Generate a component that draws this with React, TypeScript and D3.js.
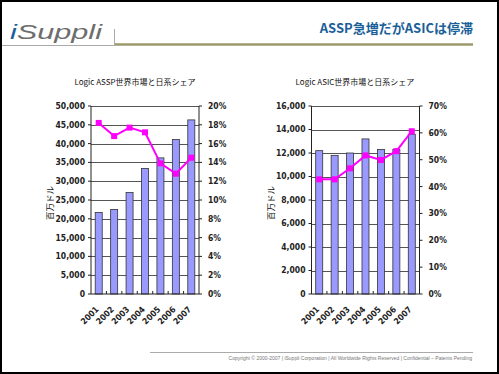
import React, { useRef, useEffect } from "react";
import * as d3 from "d3";

const years = ["2001", "2002", "2003", "2004", "2005", "2006", "2007"];

// Logic ASSP (million $) and Japanese share (%)
const asspMarket = [21700, 22500, 27000, 33400, 36200, 41100, 46300];
const asspShare = [18.2, 16.8, 17.7, 17.2, 13.9, 12.8, 14.5];

// Logic ASIC (million $) and Japanese share (%)
const asicMarket = [12200, 11800, 12000, 13200, 12300, 12300, 13600];
const asicShare = [42.7, 42.7, 46.8, 51.6, 49.9, 53.2, 60.6];

const pageTitle = "ASSP急増だがASICは停滞";
const footerText =
  "Copyright © 2000-2007  |  iSuppli Corporation  |  All Worldwide Rights Reserved  |  Confidential – Patents Pending";

const W = 499;
const H = 374;
const axisFont = "'Liberation Sans Narrow', 'DejaVu Sans Condensed', 'Liberation Sans', sans-serif";
const jpFont = "'Noto Sans CJK JP', sans-serif";

type ChartCfg = {
  x0: number;
  x1: number;
  title: string;
  titleX: number;
  market: number[];
  share: number[];
  yMax: number;
  yStep: number;
  sMax: number;
  sStep: number;
};

const charts: ChartCfg[] = [
  { x0: 91, x1: 199, title: "Logic ASSP世界市場と日系シェア", titleX: 135, market: asspMarket, share: asspShare, yMax: 50000, yStep: 5000, sMax: 20, sStep: 2 },
  { x0: 311.5, x1: 419.5, title: "Logic ASIC世界市場と日系シェア", titleX: 355, market: asicMarket, share: asicShare, yMax: 16000, yStep: 2000, sMax: 70, sStep: 10 },
];

const top = 106;
const bottom = 294;

function drawChart(svg: d3.Selection<SVGSVGElement, unknown, null, undefined>, c: ChartCfg) {
  const g = svg.append("g");
  const x = d3.scaleBand().domain(years).range([c.x0, c.x1]);
  const y = d3.scaleLinear().domain([0, c.yMax]).range([bottom, top]);
  const s = d3.scaleLinear().domain([0, c.sMax]).range([bottom, top]);
  const yTicks = d3.range(0, c.yMax + 1, c.yStep);
  const sTicks = d3.range(0, c.sMax + 0.001, c.sStep);

  // title
  g.append("text")
    .attr("x", c.titleX).attr("y", 85)
    .attr("text-anchor", "middle")
    .style("font-family", jpFont).style("font-size", "8px").style("fill", "#111")
    .text(c.title);

  // gridlines
  g.selectAll(".grid").data(yTicks.slice(1)).enter().append("line")
    .attr("x1", c.x0).attr("x2", c.x1)
    .attr("y1", d => Math.round(y(d)) + 0.5).attr("y2", d => Math.round(y(d)) + 0.5)
    .style("stroke", "#555").style("stroke-width", 1);

  // bars
  const bw = x.bandwidth() / 2.2;
  g.selectAll(".bar").data(c.market).enter().append("rect")
    .attr("x", (d, i) => (x(years[i]) as number) + x.bandwidth() / 2 - bw / 2)
    .attr("y", d => y(d))
    .attr("width", bw)
    .attr("height", d => bottom - y(d))
    .style("fill", "#9999ff").style("stroke", "#333").style("stroke-width", 0.8);

  // axes lines
  g.append("line").attr("x1", c.x0).attr("x2", c.x0).attr("y1", top).attr("y2", bottom).style("stroke", "#222");
  g.append("line").attr("x1", c.x1).attr("x2", c.x1).attr("y1", top).attr("y2", bottom).style("stroke", "#222");
  g.append("line").attr("x1", c.x0).attr("x2", c.x1).attr("y1", bottom).attr("y2", bottom).style("stroke", "#222");

  // category ticks
  g.selectAll(".xt").data(years.slice(1)).enter().append("line")
    .attr("x1", d => x(d) as number).attr("x2", d => x(d) as number)
    .attr("y1", bottom).attr("y2", bottom - 3)
    .style("stroke", "#222");

  // left ticks and labels
  g.selectAll(".ylt").data(yTicks).enter().append("line")
    .attr("x1", c.x0 - 3).attr("x2", c.x0)
    .attr("y1", d => y(d)).attr("y2", d => y(d))
    .style("stroke", "#222");
  g.selectAll(".yl").data(yTicks).enter().append("text")
    .attr("x", c.x0 - 6).attr("y", d => y(d)).attr("dy", "0.35em")
    .attr("text-anchor", "end")
    .style("font-family", axisFont).style("font-size", "8.5px").style("font-weight", "bold").style("fill", "#222")
    .text(d => d3.format(",")(d));

  // right ticks and labels
  g.selectAll(".srt").data(sTicks).enter().append("line")
    .attr("x1", c.x1).attr("x2", c.x1 + 3)
    .attr("y1", d => s(d)).attr("y2", d => s(d))
    .style("stroke", "#222");
  g.selectAll(".sl").data(sTicks).enter().append("text")
    .attr("x", c.x1 + 9).attr("y", d => s(d)).attr("dy", "0.35em")
    .style("font-family", axisFont).style("font-size", "8.5px").style("font-weight", "bold").style("fill", "#222")
    .text(d => Math.round(d) + "%");

  // year labels
  g.selectAll(".xl").data(years).enter().append("text")
    .attr("transform", d => `translate(${(x(d) as number) + x.bandwidth() / 2 + 0.5},${bottom + 16}) rotate(-45)`)
    .attr("text-anchor", "end")
    .style("font-family", axisFont).style("font-size", "8.5px").style("font-weight", "bold").style("fill", "#222")
    .text(d => d);

  // y axis title
  g.append("text")
    .attr("transform", `translate(${c.x0 - 38},203) rotate(-90)`)
    .attr("text-anchor", "middle")
    .style("font-family", jpFont).style("font-size", "8.5px").style("fill", "#111")
    .text("百万ドル");

  // share line
  const line = d3.line<number>()
    .x((d, i) => (x(years[i]) as number) + x.bandwidth() / 2)
    .y(d => s(d));
  g.append("path").datum(c.share).attr("d", line)
    .style("fill", "none").style("stroke", "#ff00ff").style("stroke-width", 2);
  g.selectAll(".mk").data(c.share).enter().append("rect")
    .attr("x", (d, i) => (x(years[i]) as number) + x.bandwidth() / 2 - 3)
    .attr("y", d => s(d) - 3)
    .attr("width", 6).attr("height", 6)
    .style("fill", "#ff00ff");
}

const App = () => {
  const ref = useRef<SVGSVGElement>(null);

  useEffect(() => {
    const svg = d3.select(ref.current as SVGSVGElement);
    svg.selectAll("*").remove();

    svg.append("rect").attr("width", W).attr("height", H).style("fill", "#fff");

    // header
    svg.append("text")
      .attr("x", 10).attr("y", 39)
      .attr("textLength", 92).attr("lengthAdjust", "spacingAndGlyphs")
      .style("font-family", "'Liberation Sans', sans-serif").style("font-size", "20px").style("font-style", "italic")
      .call(t => {
        t.append("tspan").style("fill", "#1b5f98").text("i");
        t.append("tspan").style("fill", "#6d6d6d").text("Suppli");
      });
    svg.append("line").attr("x1", 2).attr("x2", 114).attr("y1", 45.5).attr("y2", 45.5).style("stroke", "#aaa");
    svg.append("line").attr("x1", 114.5).attr("x2", 114.5).attr("y1", 29).attr("y2", 46).style("stroke", "#aaa");
    svg.append("line").attr("x1", 115).attr("x2", 473).attr("y1", 44.5).attr("y2", 44.5).style("stroke", "#9c9a6c").style("stroke-width", 2.5);
    svg.append("text")
      .attr("x", 473).attr("y", 33)
      .attr("text-anchor", "end")
      .style("font-family", jpFont).style("font-size", "13px").style("font-weight", "bold").style("fill", "#1b5f98")
      .text(pageTitle);

    charts.forEach(c => drawChart(svg, c));

    // footer
    svg.append("line").attr("x1", 150).attr("x2", 473).attr("y1", 352.5).attr("y2", 352.5).style("stroke", "#aaa");
    svg.append("text")
      .attr("x", 472).attr("y", 360)
      .attr("text-anchor", "end")
      .style("font-family", "'Liberation Sans', sans-serif").style("font-size", "5px").style("fill", "#777")
      .text(footerText);

    // frame
    svg.append("rect").attr("x", 1).attr("y", 1).attr("width", W - 2).attr("height", H - 2)
      .style("fill", "none").style("stroke", "#000").style("stroke-width", 2);
  });

  return (
    <div style={{ position: "absolute", left: 0, top: 0 }}>
      <svg ref={ref} width={W} height={H}></svg>
    </div>
  );
};

export default App;
